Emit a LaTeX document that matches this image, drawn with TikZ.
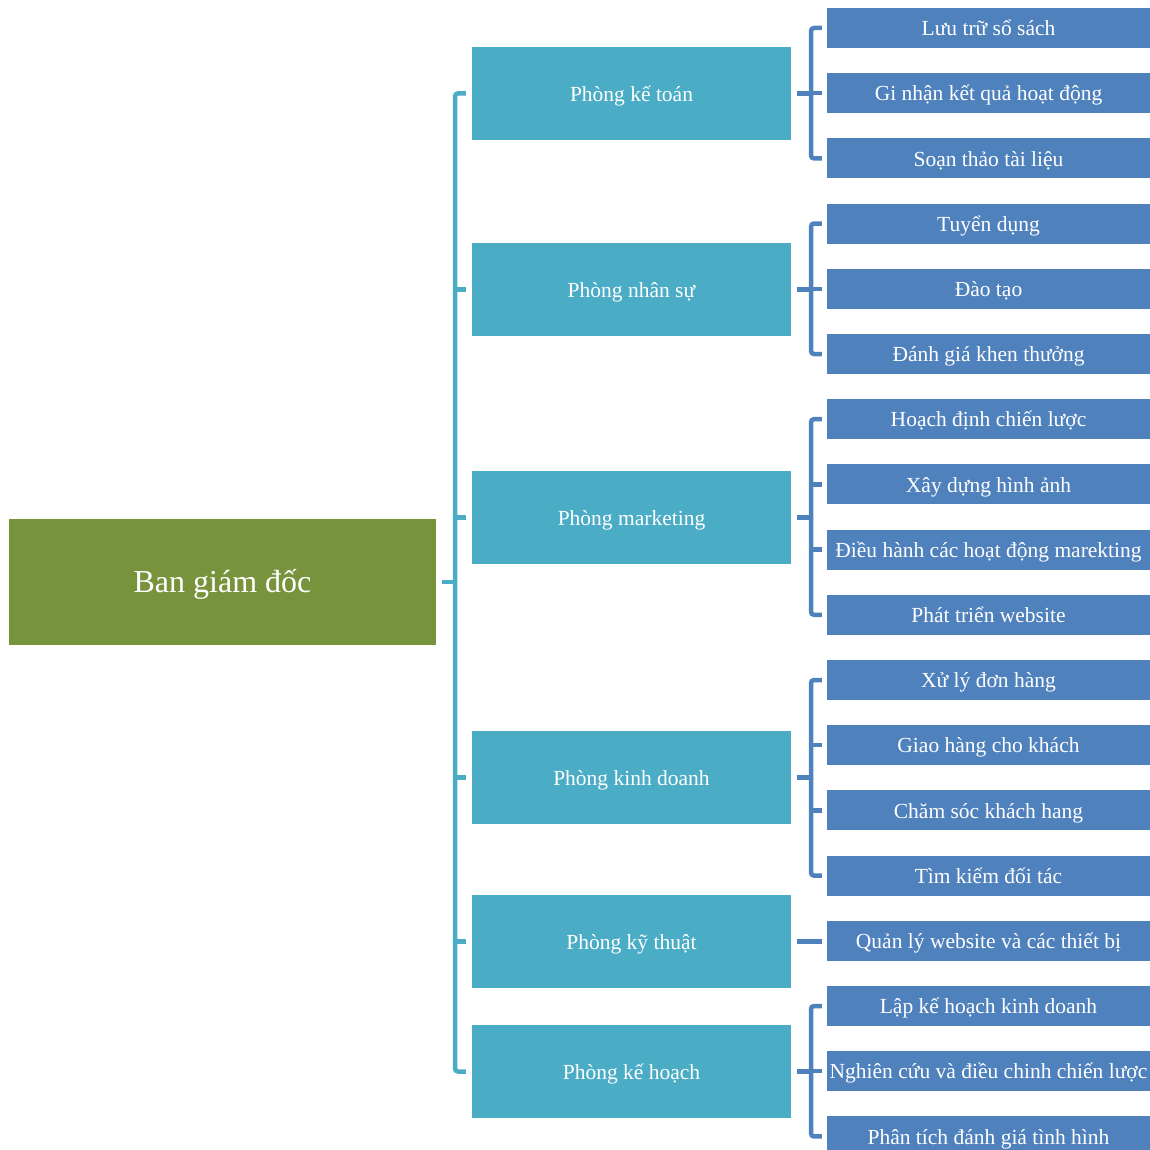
\documentclass[tikz,border=0pt]{standalone}
\usepackage{fontspec}
\setmainfont{Liberation Serif}
\definecolor{rootgreen}{HTML}{77933C}
\definecolor{deptteal}{HTML}{4BACC6}
\definecolor{itemblue}{HTML}{4F81BD}
\tikzset{
  rootbox/.style={fill=rootgreen, text=white, inner sep=0pt, minimum width=427pt, minimum height=126pt, font=\fontsize{32}{36}\selectfont, text height=28pt, text depth=8pt},
  deptbox/.style={fill=deptteal, text=white, inner sep=0pt, minimum width=319pt, minimum height=93pt, font=\fontsize{21.5}{24}\selectfont, text height=19.5pt, text depth=4pt},
  itembox/.style={fill=itemblue, text=white, inner sep=0pt, minimum width=323pt, minimum height=40pt, font=\fontsize{21.5}{24}\selectfont, text height=19.5pt, text depth=4pt},
  tealline/.style={draw=deptteal, line width=4.5pt, rounded corners=3pt},
  blueline/.style={draw=itemblue, line width=4.5pt, rounded corners=3pt},
}
\begin{document}
\begin{tikzpicture}[x=1pt,y=-1pt]
\useasboundingbox (0,0) rectangle (1150,1150);
% root
\node[rootbox] (root) at (222.5,582) {Ban giám đốc};
% departments
\node[deptbox] (d1) at (631.5,93.5) {Phòng kế toán};
\node[deptbox] (d2) at (631.5,289.5) {Phòng nhân sự};
\node[deptbox] (d3) at (631.5,517.5) {Phòng marketing};
\node[deptbox] (d4) at (631.5,777.5) {Phòng kinh doanh};
\node[deptbox] (d5) at (631.5,941.5) {Phòng kỹ thuật};
\node[deptbox] (d6) at (631.5,1071.5) {Phòng kế hoạch};
% items
\node[itembox] (i1)  at (988.5,28)   {Lưu trữ sổ sách};
\node[itembox] (i2)  at (988.5,93.2) {Gi nhận kết quả hoạt động};
\node[itembox] (i3)  at (988.5,158.4) {Soạn thảo tài liệu};
\node[itembox] (i4)  at (988.5,223.6) {Tuyển dụng};
\node[itembox] (i5)  at (988.5,288.8) {Đào tạo};
\node[itembox] (i6)  at (988.5,354)  {Đánh giá khen thưởng};
\node[itembox] (i7)  at (988.5,419.2) {Hoạch định chiến lược};
\node[itembox] (i8)  at (988.5,484.4) {Xây dựng hình ảnh};
\node[itembox] (i9)  at (988.5,549.6) {Điều hành các hoạt động marekting};
\node[itembox] (i10) at (988.5,614.8) {Phát triển website};
\node[itembox] (i11) at (988.5,680)  {Xử lý đơn hàng};
\node[itembox] (i12) at (988.5,745.2) {Giao hàng cho khách};
\node[itembox] (i13) at (988.5,810.4) {Chăm sóc khách hang};
\node[itembox] (i14) at (988.5,875.6) {Tìm kiếm đối tác};
\node[itembox] (i15) at (988.5,940.8) {Quản lý website và các thiết bị};
\node[itembox] (i16) at (988.5,1006) {Lập kế hoạch kinh doanh};
\node[itembox] (i17) at (988.5,1071.2) {Nghiên cứu và điều chinh chiến lược};
\node[itembox] (i18) at (988.5,1136.4) {Phân tích đánh giá tình hình};
% main bracket
\coordinate (bx) at (455,0);
\coordinate (cx) at (811,0);
\draw[tealline] ([xshift=-6pt]d1.west) -- (bx |- d1.west) -- (bx |- d6.west) -- ([xshift=-6pt]d6.west);
\foreach \d in {d2,d3,d4,d5}{
  \draw[tealline] (bx |- \d.west) -- ([xshift=-6pt]\d.west);
}
\draw[tealline] ([xshift=6pt]root.east) -- (bx |- root.east);
% department brackets
\foreach \d/\first/\last/\mids in {d1/i1/i3/{i2}, d2/i4/i6/{i5}, d3/i7/i10/{i8,i9}, d4/i11/i14/{i12,i13}, d6/i16/i18/{i17}}{
  \draw[blueline] ([xshift=-5pt]\first.west) -- (cx |- \first.west) -- (cx |- \last.west) -- ([xshift=-5pt]\last.west);
  \foreach \m in \mids {
    \draw[blueline] (cx |- \m.west) -- ([xshift=-5pt]\m.west);
  }
  \draw[blueline] ([xshift=6pt]\d.east) -- (cx |- \d.east);
}
\draw[blueline] ([xshift=6pt]d5.east) -- ([xshift=-5pt]d5.east -| i15.west);
\end{tikzpicture}
\end{document}
